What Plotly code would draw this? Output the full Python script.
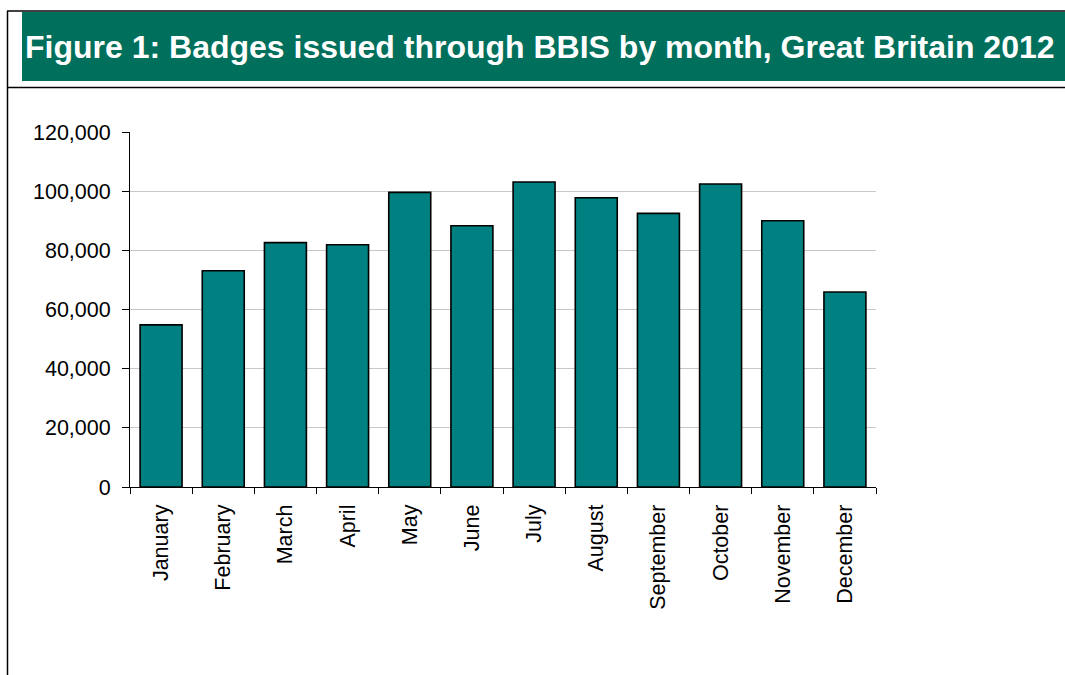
import plotly.graph_objects as go

# Blue Badges issued through BBIS, Great Britain 2012
months = ["January", "February", "March", "April", "May", "June",
          "July", "August", "September", "October", "November", "December"]
badges = [54800, 73100, 82600, 81900, 99600, 88300,
          103100, 97800, 92500, 102400, 90000, 65900]
y_ticks = [0, 20000, 40000, 60000, 80000, 100000, 120000]

W, H = 1065, 675
L, R, T, B = 130, 876, 132, 487  # plot area edges in pixels


def px_x(x):
    return (x - L) / (R - L)


def px_y(y):
    return (B - y) / (B - T)


fig = go.Figure(
    go.Bar(
        x=months,
        y=badges,
        marker=dict(color="#008080", line=dict(color="#000000", width=1.6)),
        hoverinfo="x+y",
    )
)

shapes = [
    # title banner
    dict(type="rect", xref="paper", yref="paper",
         x0=px_x(22), x1=px_x(1070), y0=px_y(81), y1=px_y(12),
         fillcolor="#006F5C", line=dict(width=0), layer="below"),
    # outer frame lines
    dict(type="line", xref="paper", yref="paper",
         x0=px_x(7), x1=px_x(1070), y0=px_y(11), y1=px_y(11),
         line=dict(color="#000000", width=1.5)),
    dict(type="line", xref="paper", yref="paper",
         x0=px_x(7), x1=px_x(1070), y0=px_y(87.5), y1=px_y(87.5),
         line=dict(color="#000000", width=1.5)),
    dict(type="line", xref="paper", yref="paper",
         x0=px_x(7.5), x1=px_x(7.5), y0=px_y(11), y1=px_y(680),
         line=dict(color="#000000", width=1.5)),
]

fig.update_layout(
    width=W, height=H,
    margin=dict(l=L, r=W - R, t=T, b=H - B, pad=0),
    paper_bgcolor="#ffffff",
    plot_bgcolor="#ffffff",
    font=dict(family="Liberation Sans, Arial, sans-serif", color="#000000", size=21),
    bargap=0.325,
    showlegend=False,
    shapes=shapes,
    annotations=[
        dict(text="<b>Figure 1: Badges issued through BBIS by month, Great Britain 2012</b>",
             xref="paper", yref="paper", x=px_x(23), y=px_y(46.5),
             xanchor="left", yanchor="middle", showarrow=False,
             font=dict(size=32, color="#ffffff",
                       family="Liberation Sans, Arial, sans-serif")),
    ],
)

fig.update_xaxes(
    type="category",
    showline=True, linecolor="#000000", linewidth=1,
    ticks="outside", tickson="boundaries", ticklen=6, tickcolor="#000000",
    tickangle=-90, ticklabelstandoff=8,
    tickfont=dict(size=21.5),
    showgrid=False,
)

fig.update_yaxes(
    range=[0, 120000],
    tickvals=y_ticks, tickformat=",",
    showline=True, linecolor="#000000", linewidth=1,
    ticks="outside", ticklen=7, tickcolor="#000000",
    ticklabelstandoff=7,
    tickfont=dict(size=21.5),
    showgrid=True, gridcolor="#c8c8c8", gridwidth=1,
    zeroline=False,
)

fig.write_html("out.html")
